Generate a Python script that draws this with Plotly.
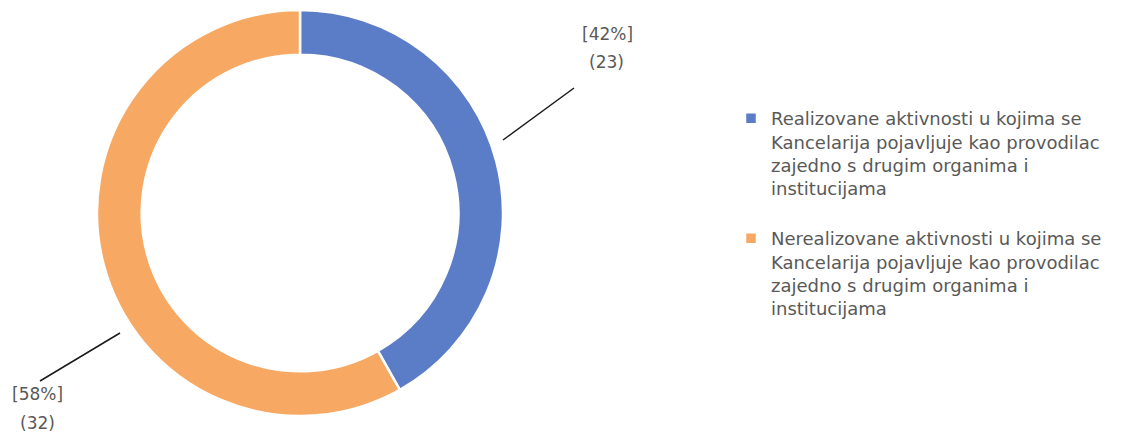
import plotly.graph_objects as go

# ---- data ----
categories = [
    "Realizovane aktivnosti u kojima se<br>Kancelarija pojavljuje kao provodilac<br>zajedno s drugim organima i<br>institucijama<br> ",
    "Nerealizovane aktivnosti u kojima se<br>Kancelarija pojavljuje kao provodilac<br>zajedno s drugim organima i<br>institucijama",
]
counts = [23, 32]
percent_labels = ["[42%]", "[58%]"]
colors = ["#5B7DC8", "#F7A862"]

W, H = 1130, 434
FONT = "DejaVu Sans"
GRAY = "#595959"

def px(x):
    return x / W

def py(y):
    return 1 - y / H

fig = go.Figure()
fig.add_trace(go.Pie(
    labels=categories,
    values=counts,
    sort=False,
    direction="clockwise",
    rotation=0,
    hole=0.78,
    textinfo="none",
    hoverinfo="label+value+percent",
    marker=dict(colors=colors, line=dict(color="white", width=2.5)),
    domain=dict(x=[px(96), px(504)], y=[py(416), py(10)]),
))

# data labels with leader lines (label centre / leader ends in pixels)
pct_pos = [(607, 34), (37, 394)]
cnt_pos = [(606, 62), (37, 423)]
leader = [((503, 140), (574, 88)), ((120, 333), (40, 381))]
annotations = []
shapes = []
for i in range(len(counts)):
    for (lx, ly), txt in ((pct_pos[i], percent_labels[i]), (cnt_pos[i], f"({counts[i]})")):
        annotations.append(dict(
            x=px(lx), y=py(ly), xref="paper", yref="paper",
            xanchor="center", yanchor="middle",
            text=txt, showarrow=False,
            font=dict(family=FONT, size=17, color=GRAY),
        ))
    (x0, y0), (x1, y1) = leader[i]
    shapes.append(dict(type="line", xref="paper", yref="paper",
                       x0=px(x0), y0=py(y0), x1=px(x1), y1=py(y1),
                       line=dict(color="#1a1a1a", width=1.5)))

fig.update_layout(
    width=W, height=H,
    margin=dict(l=0, r=0, t=0, b=0),
    paper_bgcolor="white",
    plot_bgcolor="white",
    showlegend=True,
    legend=dict(
        x=px(731), y=py(100), xanchor="left", yanchor="top",
        font=dict(family=FONT, size=18, color=GRAY),
        valign="top",
        itemclick=False,
        bgcolor="rgba(0,0,0,0)",
    ),
    annotations=annotations,
    shapes=shapes,
)

fig.write_html("out.html", config={"displayModeBar": False},
               post_script="document.body.style.margin='0';")
